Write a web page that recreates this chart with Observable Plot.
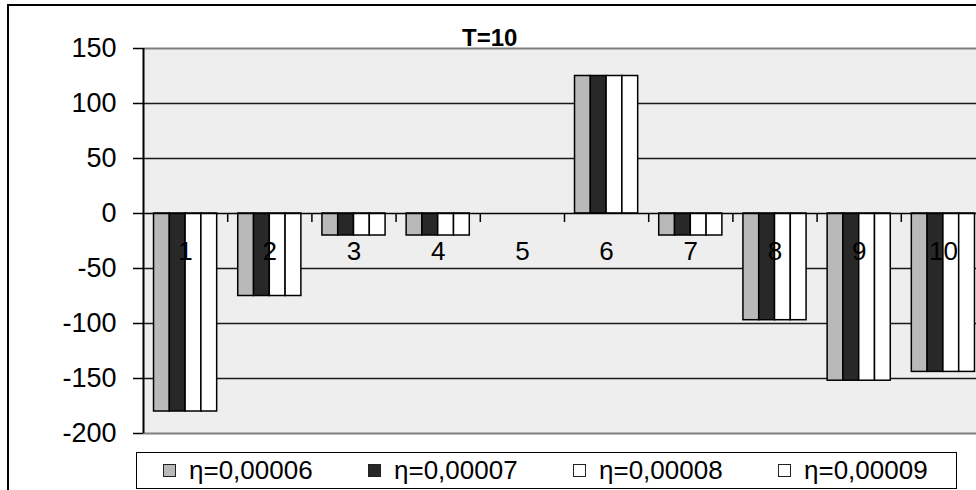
<!DOCTYPE html>
<html>
<head>
<meta charset="utf-8">
<script src="https://cdn.jsdelivr.net/npm/d3@7"></script>
<script src="https://cdn.jsdelivr.net/npm/@observablehq/plot@0.6"></script>
<style>
  html, body { margin: 0; padding: 0; background: #fff; width: 976px; height: 490px; overflow: hidden; }
  #chart { position: relative; width: 976px; height: 490px; font-family: "Liberation Sans", Arial, sans-serif; overflow: hidden; }
  #outer { position: absolute; left: 7px; top: 4px; width: 1100px; height: 600px; border: 2px solid #000; box-sizing: border-box; }
  #plot { position: absolute; left: 0; top: 0; width: 990px; }
  #plot svg { max-width: none !important; }
  #title { position: absolute; left: 462px; top: 26px; font-size: 24px; line-height: 24px; font-weight: bold; color: #000; white-space: nowrap; }
  #legend { position: absolute; left: 136px; top: 452px; width: 821px; height: 37px; border: 1.5px solid #000; box-sizing: border-box; background: #fff; }
  .item { position: absolute; top: 0; height: 34px; display: flex; align-items: center; font-size: 26px; color: #000; white-space: nowrap; }
  .swatch { width: 11px; height: 11px; border: 1px solid #222; margin-right: 13px; }
</style>
</head>
<body>
<div id="chart">
  <div id="outer"></div>
  <div id="plot"></div>
  <div id="title">T=10</div>
  <div id="legend"></div>
</div>
<script>
// Categories along the x axis
const categories = [1, 2, 3, 4, 5, 6, 7, 8, 9, 10];

// Series names (learning rate η) and their values per category
const seriesNames = ["η=0,00006", "η=0,00007", "η=0,00008", "η=0,00009"];
const eta00006 = [-180, -75, -20, -20, 0, 125, -20, -97, -152, -144];
const eta00007 = [-180, -75, -20, -20, 0, 125, -20, -97, -152, -144];
const eta00008 = [-180, -75, -20, -20, 0, 125, -20, -97, -152, -144];
const eta00009 = [-180, -75, -20, -20, 0, 125, -20, -97, -152, -144];

// Y axis tick values
const yTicks = [150, 100, 50, 0, -50, -100, -150, -200];

// Fill colours per series
const seriesColors = ["#b9b9b9", "#282828", "#ffffff", "#ffffff"];

const seriesValues = [eta00006, eta00007, eta00008, eta00009];
const rows = [];
seriesValues.forEach((vals, s) => {
  vals.forEach((v, i) => rows.push({cat: categories[i], s, series: seriesNames[s], value: v}));
});

// Each category group fills 3/4 of its slot, split evenly across the series
const groupWidth = 0.75;
const barWidth = groupWidth / seriesNames.length;
const boundaries = categories.slice(0, -1).map(c => c + 0.5);

const chart = Plot.plot({
  width: 990,
  height: 452,
  marginLeft: 143,
  marginRight: 5,
  marginTop: 48,
  marginBottom: 19,
  style: {fontFamily: "'Liberation Sans', Arial, sans-serif", background: "transparent", color: "#000", overflow: "visible", maxWidth: "none"},
  x: {domain: [categories[0] - 0.5, categories[categories.length - 1] + 0.5], axis: null},
  y: {domain: [-200, 150], axis: null},
  color: {domain: seriesNames, range: seriesColors},
  marks: [
    Plot.frame({fill: "#eeeeee", stroke: null}),
    Plot.ruleY(yTicks.filter(t => t !== 0 && t !== 150 && t !== -200), {stroke: "#1a1a1a", strokeWidth: 1.3}),
    Plot.ruleY([150, -200], {stroke: "#7f7f7f", strokeWidth: 2}),
    Plot.rectY(rows, {
      x1: d => d.cat - groupWidth / 2 + d.s * barWidth,
      x2: d => d.cat - groupWidth / 2 + (d.s + 1) * barWidth,
      y1: 0,
      y2: "value",
      fill: "series",
      stroke: "#000",
      strokeWidth: 1.5
    }),
    Plot.ruleY([0], {stroke: "#000", strokeWidth: 1.5}),
    Plot.ruleX(boundaries, {y1: 0, y2: 0, insetTop: 0, insetBottom: -9, stroke: "#000", strokeWidth: 1.5}),
    Plot.ruleX([categories[0] - 0.5], {stroke: "#000", strokeWidth: 2}),
    Plot.axisY(yTicks, {tickSize: 10, tickPadding: 17, fontSize: 27, tickFormat: d => String(d), strokeWidth: 1.5, label: null}),
    Plot.text(categories, {x: d => d, y: 0, dy: 38, text: d => String(d), fontSize: 26, fill: "#000"})
  ]
});
document.getElementById("plot").appendChild(chart);

// Legend row built from the series names and colours
const legend = document.getElementById("legend");
seriesNames.forEach((name, i) => {
  const item = document.createElement("div");
  item.className = "item";
  item.style.left = (26 + i * 205) + "px";
  const sw = document.createElement("span");
  sw.className = "swatch";
  sw.style.background = seriesColors[i];
  const label = document.createElement("span");
  label.textContent = name;
  item.appendChild(sw);
  item.appendChild(label);
  legend.appendChild(item);
});
</script>
</body>
</html>
